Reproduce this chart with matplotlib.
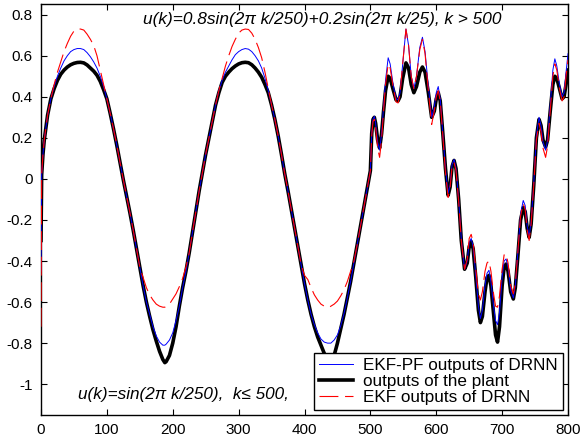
import matplotlib
matplotlib.use('Agg')
import matplotlib.pyplot as plt

plt.rcParams['font.family'] = ['Liberation Sans', 'DejaVu Sans']

# time steps (shared by all three series)
k = [0, 1, 3, 5, 10, 15, 20, 25, 30, 35, 40, 45, 50, 55, 60, 65, 70, 75, 80, 85,
     90, 95, 100, 105, 110, 115, 120, 125, 130, 135, 140, 145, 150, 155, 160, 165,
     170, 175, 180, 185, 188, 190, 195, 200, 205, 210, 215, 220, 225, 230, 235,
     240, 245, 250, 255, 260, 265, 270, 275, 280, 285, 290, 295, 300, 305, 310,
     315, 320, 325, 330, 335, 340, 345, 350, 355, 360, 365, 370, 375, 380, 385,
     390, 395, 400, 405, 410, 415, 420, 425, 430, 435, 438, 440, 445, 450, 455,
     460, 465, 470, 475, 480, 485, 490, 495, 500,
     502, 504, 506, 508, 511, 514, 517, 520, 523, 527,
     530, 535, 539, 542, 545, 549, 554, 558, 562, 566,
     570, 575, 579, 583, 588, 593, 597, 600, 603, 606,
     610, 614, 618, 621, 624, 627, 630, 634, 638, 643,
     647, 650, 653, 656, 660, 664, 667, 670, 674, 677,
     680, 683, 687, 690, 693, 696, 700, 703, 706, 709,
     713, 717, 720, 724, 728, 732, 735, 738, 741, 744,
     748, 752, 756, 759, 762, 766, 769, 773, 777, 780,
     783, 787, 791, 794, 797, 800]

# outputs of the plant
y_plant = [-0.30, 0.02, 0.12, 0.19, 0.31, 0.39, 0.44, 0.48, 0.51, 0.53, 0.545, 0.556,
           0.563, 0.567, 0.568, 0.565, 0.555, 0.54, 0.525, 0.505,
           0.475, 0.435, 0.39, 0.32, 0.245, 0.165, 0.08, -0.005, -0.085, -0.165,
           -0.25, -0.34, -0.43, -0.52, -0.60, -0.67,
           -0.735, -0.79, -0.84, -0.88, -0.895, -0.89, -0.86, -0.80, -0.72, -0.62,
           -0.53, -0.45, -0.36, -0.26, -0.16,
           -0.06, 0.03, 0.12, 0.20, 0.28, 0.36, 0.42, 0.47, 0.50, 0.52, 0.537,
           0.55, 0.56, 0.566, 0.568,
           0.566, 0.556, 0.54, 0.52, 0.495, 0.46, 0.42, 0.36, 0.29, 0.21, 0.12,
           0.025, -0.06, -0.15, -0.24,
           -0.33, -0.42, -0.51, -0.59, -0.66, -0.72, -0.77, -0.81, -0.85, -0.885,
           -0.895, -0.89, -0.86, -0.80, -0.73,
           -0.66, -0.58, -0.50, -0.41, -0.32, -0.23, -0.14, -0.05, 0.04,
           0.22, 0.29, 0.30, 0.27, 0.19, 0.15, 0.22, 0.33, 0.43, 0.50,
           0.49, 0.43, 0.385, 0.38, 0.40, 0.49, 0.565, 0.54, 0.46, 0.42,
           0.45, 0.52, 0.545, 0.52, 0.42, 0.30, 0.33, 0.39, 0.42, 0.38,
           0.22, 0.05, -0.08, -0.04, 0.06, 0.09, 0.05, -0.10, -0.30, -0.44,
           -0.41, -0.33, -0.305, -0.34, -0.48, -0.64, -0.70, -0.67, -0.55, -0.48,
           -0.47, -0.52, -0.66, -0.76, -0.795, -0.72, -0.52, -0.43, -0.415, -0.45,
           -0.55, -0.585, -0.53, -0.37, -0.20, -0.14, -0.16, -0.24, -0.285, -0.22,
           -0.03, 0.20, 0.29, 0.26, 0.19, 0.155, 0.19, 0.33, 0.46, 0.50,
           0.49, 0.44, 0.39, 0.40, 0.46, 0.53]

# EKF-PF outputs of DRNN
y_ekfpf = [-0.45, 0.02, 0.12, 0.19, 0.31, 0.39, 0.45, 0.50, 0.54, 0.575, 0.60, 0.62,
           0.63, 0.635, 0.635, 0.63, 0.615, 0.595, 0.57, 0.54,
           0.50, 0.45, 0.39, 0.32, 0.245, 0.165, 0.08, -0.005, -0.085, -0.165,
           -0.25, -0.34, -0.43, -0.52, -0.60, -0.66,
           -0.72, -0.765, -0.795, -0.81, -0.81, -0.805, -0.785, -0.75, -0.69, -0.62,
           -0.53, -0.45, -0.36, -0.26, -0.16,
           -0.06, 0.03, 0.12, 0.20, 0.28, 0.36, 0.43, 0.48, 0.52, 0.55, 0.58,
           0.605, 0.62, 0.63, 0.635,
           0.632, 0.62, 0.60, 0.575, 0.54, 0.49, 0.43, 0.36, 0.29, 0.21, 0.12,
           0.025, -0.06, -0.15, -0.24,
           -0.33, -0.42, -0.51, -0.59, -0.66, -0.71, -0.75, -0.78, -0.795, -0.80,
           -0.80, -0.80, -0.785, -0.76, -0.715,
           -0.655, -0.58, -0.50, -0.41, -0.32, -0.23, -0.14, -0.05, 0.04,
           0.22, 0.29, 0.305, 0.27, 0.18, 0.14, 0.22, 0.35, 0.48, 0.59,
           0.56, 0.45, 0.39, 0.385, 0.42, 0.56, 0.73, 0.65, 0.50, 0.44,
           0.50, 0.64, 0.69, 0.62, 0.45, 0.30, 0.35, 0.42, 0.45, 0.39,
           0.22, 0.05, -0.07, -0.03, 0.07, 0.095, 0.05, -0.10, -0.29, -0.44,
           -0.40, -0.31, -0.29, -0.33, -0.47, -0.62, -0.68, -0.64, -0.52, -0.46,
           -0.445, -0.50, -0.62, -0.69, -0.71, -0.65, -0.48, -0.40, -0.39, -0.43,
           -0.54, -0.58, -0.52, -0.35, -0.17, -0.105, -0.13, -0.23, -0.28, -0.21,
           -0.02, 0.21, 0.30, 0.26, 0.18, 0.14, 0.19, 0.36, 0.53, 0.585,
           0.55, 0.46, 0.40, 0.42, 0.52, 0.61]

# EKF outputs of DRNN
y_ekf = [-0.72, 0.02, 0.12, 0.19, 0.31, 0.39, 0.46, 0.52, 0.57, 0.62, 0.66, 0.695,
         0.72, 0.73, 0.73, 0.725, 0.705, 0.68, 0.65, 0.60,
         0.53, 0.46, 0.39, 0.32, 0.245, 0.165, 0.08, -0.005, -0.085, -0.165,
         -0.25, -0.34, -0.43, -0.48, -0.53, -0.565,
         -0.59, -0.61, -0.62, -0.625, -0.625, -0.62, -0.61, -0.585, -0.56, -0.525,
         -0.485, -0.43, -0.36, -0.26, -0.16,
         -0.06, 0.03, 0.12, 0.20, 0.28, 0.36, 0.43, 0.49, 0.55, 0.60, 0.645,
         0.68, 0.71, 0.725, 0.73,
         0.728, 0.71, 0.68, 0.64, 0.59, 0.52, 0.44, 0.36, 0.29, 0.21, 0.12,
         0.025, -0.06, -0.15, -0.24,
         -0.33, -0.42, -0.47, -0.49, -0.53, -0.565, -0.59, -0.61, -0.62, -0.625,
         -0.625, -0.62, -0.61, -0.595, -0.57,
         -0.54, -0.50, -0.45, -0.40, -0.32, -0.23, -0.14, -0.05, 0.04,
         0.21, 0.28, 0.29, 0.25, 0.15, 0.105, 0.19, 0.33, 0.46, 0.56,
         0.54, 0.44, 0.375, 0.37, 0.41, 0.56, 0.73, 0.65, 0.50, 0.44,
         0.50, 0.63, 0.68, 0.61, 0.43, 0.265, 0.33, 0.40, 0.43, 0.38,
         0.21, 0.03, -0.09, -0.04, 0.06, 0.08, 0.04, -0.11, -0.30, -0.44,
         -0.39, -0.29, -0.27, -0.31, -0.44, -0.56, -0.59, -0.55, -0.45, -0.41,
         -0.40, -0.45, -0.56, -0.62, -0.625, -0.57, -0.44, -0.37, -0.365, -0.41,
         -0.52, -0.56, -0.51, -0.35, -0.18, -0.12, -0.15, -0.25, -0.30, -0.22,
         -0.03, 0.19, 0.27, 0.23, 0.15, 0.105, 0.16, 0.33, 0.50, 0.56,
         0.53, 0.44, 0.38, 0.40, 0.50, 0.58]

x_ticks = [0, 100, 200, 300, 400, 500, 600, 700, 800]
y_ticks = [0.8, 0.6, 0.4, 0.2, 0, -0.2, -0.4, -0.6, -0.8, -1]
y_tick_labels = ['0.8', '0.6', '0.4', '0.2', '0', '-0.2', '-0.4', '-0.6', '-0.8', '-1']

fig = plt.figure(figsize=(5.83, 4.41), dpi=100)
ax = fig.add_axes([0.0703, 0.059, 0.904, 0.931])

ax.plot(k, y_ekfpf, color='#0000ff', lw=0.7, label='EKF-PF outputs of DRNN', zorder=3)
ax.plot(k, y_plant, color='k', lw=2.6, label='outputs of the plant', zorder=2)
line_ekf, = ax.plot(k, y_ekf, color='#ff0000', lw=0.8, label='EKF outputs of DRNN', zorder=4)
line_ekf.set_dashes([17, 6])

ax.set_xlim(0, 800)
ax.set_ylim(-1.15, 0.85)
ax.set_xticks(x_ticks)
ax.set_yticks(y_ticks)
ax.set_yticklabels(y_tick_labels)
ax.tick_params(direction='in', top=True, right=True, length=4, labelsize=11, pad=6)
for sp in ax.spines.values():
    sp.set_linewidth(1.0)

ax.text(0.194, 0.964, u'u(k)=0.8sin(2π k/250)+0.2sin(2π k/25), k > 500',
        transform=ax.transAxes, fontsize=12.4, style='italic', va='center', ha='left')
ax.text(0.070, 0.051, u'u(k)=sin(2π k/250),  k≤ 500,',
        transform=ax.transAxes, fontsize=12.3, style='italic', va='center', ha='left')

leg = ax.legend(loc='lower right', fontsize=12.3, fancybox=False, framealpha=1,
                edgecolor='k', labelspacing=0.05, borderpad=0.3, handlelength=2.0,
                handletextpad=0.6, borderaxespad=0.3)
leg.get_frame().set_linewidth(1.0)

fig.savefig('out.png', dpi=100)
